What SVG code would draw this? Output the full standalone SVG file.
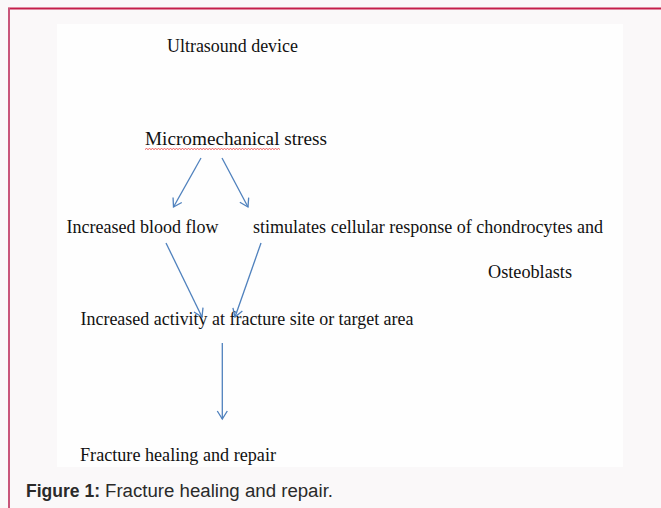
<svg xmlns="http://www.w3.org/2000/svg" width="661" height="508" viewBox="0 0 661 508">
<style>
.t{font-family:"Liberation Serif","Times New Roman",serif;font-size:19.5px;fill:#111;}
.c{stroke:#4f81bd;stroke-width:1.3;fill:none;}
.cap{font-family:"Liberation Sans",Arial,sans-serif;font-size:18px;fill:#2a2a2a;}
</style>
<defs>
<marker id="ah" markerUnits="userSpaceOnUse" markerWidth="14" markerHeight="14" viewBox="-10 -7 12 14" refX="0" refY="0" orient="auto">
<path d="M-8,-5 L0,0 L-8,5" fill="none" stroke="#4f81bd" stroke-width="1.3"/>
</marker>
</defs>
<rect x="0" y="0" width="661" height="508" fill="#faf8f9"/>
<rect x="57" y="24" width="566" height="443" fill="#fefefe"/>
<line x1="8" y1="8.5" x2="661" y2="8.5" stroke="#c41e4a" stroke-width="2"/>
<line x1="9" y1="8" x2="9" y2="508" stroke="#c8557a" stroke-width="2"/>
<g id="n1"><text class="t" x="167" y="52" textLength="131" lengthAdjust="spacingAndGlyphs">Ultrasound device</text></g>
<g id="n2"><text class="t" x="145" y="145" textLength="182" lengthAdjust="spacingAndGlyphs">Micromechanical stress</text>
<path d="M145,149.5 l1.5,-1 l1.5,1 l1.5,-1 l1.5,1 l1.5,-1 l1.5,1 l1.5,-1 l1.5,1 l1.5,-1 l1.5,1 l1.5,-1 l1.5,1 l1.5,-1 l1.5,1 l1.5,-1 l1.5,1 l1.5,-1 l1.5,1 l1.5,-1 l1.5,1 l1.5,-1 l1.5,1 l1.5,-1 l1.5,1 l1.5,-1 l1.5,1 l1.5,-1 l1.5,1 l1.5,-1 l1.5,1 l1.5,-1 l1.5,1 l1.5,-1 l1.5,1 l1.5,-1 l1.5,1 l1.5,-1 l1.5,1 l1.5,-1 l1.5,1 l1.5,-1 l1.5,1 l1.5,-1 l1.5,1 l1.5,-1 l1.5,1 l1.5,-1 l1.5,1 l1.5,-1 l1.5,1 l1.5,-1 l1.5,1 l1.5,-1 l1.5,1 l1.5,-1 l1.5,1 l1.5,-1 l1.5,1 l1.5,-1 l1.5,1 l1.5,-1 l1.5,1 l1.5,-1 l1.5,1 l1.5,-1 l1.5,1 l1.5,-1 l1.5,1 l1.5,-1 l1.5,1 l1.5,-1 l1.5,1 l1.5,-1 l1.5,1 l1.5,-1 l1.5,1 l1.5,-1 l1.5,1 l1.5,-1 l1.5,1 l1.5,-1 l1.5,1 l1.5,-1 l1.5,1 l1.5,-1 l1.5,1 l1.5,-1 l1.5,1 l1.5,-1 l1.5,1" fill="none" stroke="#f03030" stroke-width="0.8"/></g>
<g id="n3"><text class="t" x="66.5" y="233" textLength="152" lengthAdjust="spacingAndGlyphs">Increased blood flow</text></g>
<g id="n4"><text class="t" x="253" y="233" textLength="350" lengthAdjust="spacingAndGlyphs">stimulates cellular response of chondrocytes and</text>
<text class="t" x="488" y="278" textLength="84" lengthAdjust="spacingAndGlyphs">Osteoblasts</text></g>
<g id="n5"><text class="t" x="80.5" y="325" textLength="333" lengthAdjust="spacingAndGlyphs">Increased activity at fracture site or target area</text></g>
<g id="n6"><text class="t" x="80" y="461" textLength="196" lengthAdjust="spacingAndGlyphs">Fracture healing and repair</text></g>
<g id="connectors">
<line class="c" x1="201" y1="158" x2="173.5" y2="207" marker-end="url(#ah)"/>
<line class="c" x1="222" y1="158" x2="248" y2="207" marker-end="url(#ah)"/>
<line class="c" x1="166" y1="243" x2="202" y2="317" marker-end="url(#ah)"/>
<line class="c" x1="261" y1="243" x2="235" y2="317" marker-end="url(#ah)"/>
<line class="c" x1="222.3" y1="343" x2="222.3" y2="419" marker-end="url(#ah)"/>
</g>
<g id="caption">
<text class="cap" x="26" y="497" font-weight="bold" textLength="74" lengthAdjust="spacingAndGlyphs">Figure 1:</text>
<text class="cap" x="105" y="497" textLength="228" lengthAdjust="spacingAndGlyphs">Fracture healing and repair.</text>
</g>
</svg>
